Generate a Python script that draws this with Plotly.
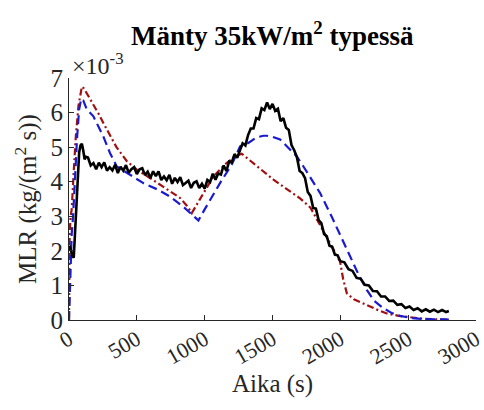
import plotly.graph_objects as go

# Mass loss rate of pine (Mänty) at 35 kW/m², values in 1e-3 kg/(m² s)

# measured curve (black, noisy)
meas_t = [5, 15, 25, 35, 45, 55, 65, 75, 85, 95, 105, 115, 125,
          140, 160, 180, 200, 220, 240, 260, 280, 300, 320, 340, 360, 380, 400,
          420, 440, 460, 480, 500, 520, 540, 560, 580, 600, 620, 640, 660, 680,
          700, 720, 740, 760, 780, 800, 820, 840, 860, 880, 900, 920, 940, 960,
          980, 1000, 1020, 1040, 1060, 1080, 1100, 1120, 1140, 1160, 1180, 1200,
          1220, 1240, 1260, 1280, 1300, 1320, 1340, 1360, 1380, 1400, 1420, 1440,
          1460, 1480, 1500, 1520, 1540, 1560, 1580, 1600, 1620, 1640, 1660, 1680,
          1700, 1720, 1740, 1760, 1780, 1800, 1820, 1840, 1860, 1880, 1900, 1920,
          1940, 1960, 1980, 2000, 2030, 2060, 2090, 2120, 2150, 2180, 2210, 2240,
          2270, 2300, 2330, 2360, 2390, 2420, 2450, 2480, 2510, 2540, 2570, 2600,
          2630, 2660, 2690, 2720, 2750, 2780, 2800]
meas_v = [2.15, 2.0, 1.85, 1.8, 2.6, 3.5, 4.3, 4.85, 5.05, 5.1, 4.9, 4.65, 4.72,
          4.70, 4.47, 4.54, 4.36, 4.55, 4.42, 4.56, 4.32, 4.42, 4.33, 4.49, 4.25, 4.43, 4.32,
          4.48, 4.26, 4.36, 4.42, 4.22, 4.36, 4.39, 4.19, 4.29, 4.11, 4.30, 4.16, 4.30, 4.05,
          4.15, 4.04, 4.20, 3.94, 4.11, 3.99, 4.13, 3.90, 3.98, 4.03, 3.82, 3.97, 4.01, 3.82,
          3.94, 3.80, 4.05, 3.99, 4.23, 4.06, 4.24, 4.21, 4.47, 4.31, 4.58, 4.56,
          4.80, 4.69, 4.91, 5.11, 5.05, 5.35, 5.54, 5.54, 5.84, 5.81, 6.12, 6.07,
          6.29, 6.10, 6.25, 6.05, 6.11, 5.75, 5.84, 5.56, 5.50, 5.06, 4.91, 4.71,
          4.31, 4.25, 4.10, 3.70, 3.59, 3.24, 3.22, 2.89, 2.80, 2.49, 2.42, 2.15,
          2.12, 1.89, 1.87, 1.70, 1.67, 1.47, 1.42, 1.22, 1.19, 1.02, 1.00, 0.84,
          0.83, 0.68, 0.68, 0.55, 0.56, 0.44, 0.46, 0.35, 0.39, 0.29, 0.34, 0.25,
          0.31, 0.24, 0.30, 0.23, 0.29, 0.23, 0.26]

# model A (blue, dashed)
model_a_t = [0, 10, 20, 30, 45, 60, 75, 90, 105, 130, 180, 253, 302, 352, 450,
             548, 650, 745, 850, 954, 1000, 1050, 1113, 1200, 1261, 1322, 1380,
             1433, 1458, 1500, 1556, 1600, 1679, 1728, 1802, 1851, 1935, 2000,
             2072, 2130, 2195, 2250, 2318, 2380, 2441, 2520, 2600, 2700, 2800]
model_a_v = [0.0, 1.5, 2.5, 3.0, 4.2, 5.3, 6.1, 6.4, 6.35, 6.1, 5.89, 5.31, 4.83, 4.44, 4.2,
             3.96, 3.78, 3.57, 3.25, 2.88, 3.2, 3.55, 3.96, 4.5, 5.02, 5.12, 5.28,
             5.33, 5.33, 5.3, 5.22, 5.05, 4.73, 4.44, 3.96, 3.67, 3.0, 2.45,
             1.84, 1.35, 0.87, 0.55, 0.34, 0.2, 0.12, 0.06, 0.03, 0.015, 0.01]

# model B (dark red, dash-dot)
model_b_t = [0, 5, 12, 20, 35, 50, 70, 95, 110, 140, 180, 220, 253, 300, 350,
             425, 500, 600, 700, 819, 870, 905, 960, 1000, 1064, 1150, 1220, 1273,
             1350, 1420, 1507, 1600, 1703, 1780, 1851, 1920, 1998, 2020, 2048, 2100,
             2195, 2270, 2343, 2430, 2515, 2600, 2700, 2800]
model_b_v = [0.0, 2.5, 3.0, 3.2, 4.3, 5.3, 6.2, 6.75, 6.7, 6.5, 6.25, 5.95, 5.7, 5.35, 5.0,
             4.6, 4.35, 4.1, 3.85, 3.53, 3.3, 3.09, 3.46, 3.72, 4.15, 4.5, 4.72, 4.81,
             4.56, 4.34, 4.06, 3.8, 3.52, 3.25, 2.75, 2.25, 1.69, 1.2, 0.77, 0.6,
             0.43, 0.3, 0.19, 0.12, 0.08, 0.04, 0.02, 0.01]

x_ticks = [0, 500, 1000, 1500, 2000, 2500, 3000]
y_ticks = [0, 1, 2, 3, 4, 5, 6, 7]

serif = "Liberation Serif"
axis_grey = "#262626"

fig = go.Figure()
fig.add_trace(go.Scatter(x=model_b_t, y=model_b_v, mode="lines",
                         line=dict(color="#a01010", width=2.2, dash="7px,3px,2px,3px")))
fig.add_trace(go.Scatter(x=model_a_t, y=model_a_v, mode="lines",
                         line=dict(color="#1a1ad0", width=2.2, dash="9px,5px")))
fig.add_trace(go.Scatter(x=meas_t, y=meas_v, mode="lines",
                         line=dict(color="#000000", width=2.6)))

fig.update_layout(
    width=484, height=410,
    margin=dict(l=69, r=8, t=78, b=90, autoexpand=False),
    paper_bgcolor="white", plot_bgcolor="white",
    showlegend=False,
    font=dict(family=serif, color=axis_grey),
)

fig.update_xaxes(
    range=[0, 3000], tickvals=x_ticks, ticktext=[str(v) for v in x_ticks],
    tickangle=-30, ticks="inside", ticklen=5, tickcolor=axis_grey,
    ticklabeloverflow="allow", ticklabelstandoff=-3, automargin=False,
    showline=True, linecolor=axis_grey, linewidth=1, showgrid=False, zeroline=False,
    tickfont=dict(family=serif, size=22, color=axis_grey),
    title=dict(text="Aika (s)", font=dict(family=serif, size=25, color=axis_grey), standoff=6),
)
fig.update_yaxes(
    range=[0, 7], tickvals=y_ticks, ticktext=[str(v) for v in y_ticks],
    ticks="inside", ticklen=5, tickcolor=axis_grey, automargin=False,
    showline=True, linecolor=axis_grey, linewidth=1, showgrid=False, zeroline=False,
    tickfont=dict(family=serif, size=25, color=axis_grey),
    title=dict(text="MLR (kg/(m<sup>2</sup> s))", font=dict(family=serif, size=25, color=axis_grey),
               standoff=6),
)

# chart title
fig.add_annotation(text="<b>Mänty 35kW/m<sup>2</sup> typessä</b>", xref="paper", yref="paper",
                   x=0.5, y=1.0, xanchor="center", yanchor="bottom", showarrow=False,
                   yshift=25, font=dict(family=serif, size=27, color="#000000"))

# axis multiplier shown above the y axis
fig.add_annotation(text="×10<sup>-3</sup>", xref="paper", yref="paper", x=0.0, y=1.0,
                   xanchor="left", yanchor="bottom", showarrow=False, xshift=1, yshift=-3,
                   font=dict(family=serif, size=24, color=axis_grey))

fig.write_html("out.html")
